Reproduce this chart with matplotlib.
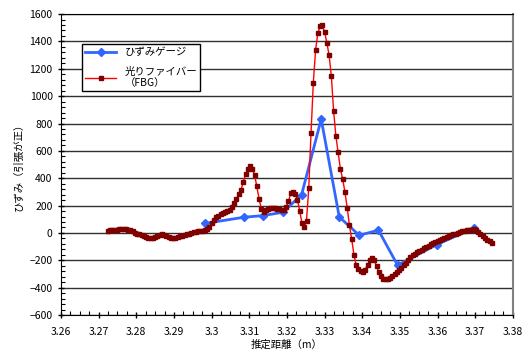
import numpy as np
import matplotlib
matplotlib.use('Agg')
import matplotlib.pyplot as plt
from matplotlib.ticker import MultipleLocator

plt.rcParams['font.family'] = ['Noto Sans CJK JP', 'DejaVu Sans']

# strain gauge
gauge_x = [3.2983, 3.3086, 3.3137, 3.3189, 3.3239, 3.3291, 3.3339, 3.3392,
           3.3443, 3.3494, 3.3598, 3.3698]
gauge_y = [70, 115, 127, 151, 280, 832, 117, -17, 20, -236, -85, 38]

# optical fibre (FBG)
fbg_x = [3.2724, 3.2730, 3.2736, 3.2742, 3.2748, 3.2754, 3.2760, 3.2766, 3.2772, 3.2778,
         3.2784, 3.2790, 3.2796, 3.2802, 3.2808, 3.2814, 3.2820, 3.2826, 3.2832, 3.2838,
         3.2844, 3.2850, 3.2856, 3.2862, 3.2868, 3.2874, 3.2880, 3.2886, 3.2892, 3.2898,
         3.2904, 3.2910, 3.2916, 3.2922, 3.2928, 3.2934, 3.2940, 3.2946, 3.2952, 3.2958,
         3.2964, 3.2970, 3.2976, 3.2982, 3.2988, 3.2994, 3.3000, 3.3006, 3.3012, 3.3018,
         3.3024, 3.3030, 3.3036, 3.3042, 3.3048, 3.3054, 3.3060, 3.3066, 3.3072, 3.3078,
         3.3084, 3.3090, 3.3096, 3.3102, 3.3108, 3.3114, 3.3120, 3.3126, 3.3132, 3.3138,
         3.3144, 3.3150, 3.3156, 3.3162, 3.3168, 3.3174, 3.3180, 3.3186, 3.3192, 3.3198,
         3.3204, 3.3210, 3.3216, 3.3222, 3.3228, 3.3234, 3.3240, 3.3246, 3.3252, 3.3258,
         3.3264, 3.3270, 3.3276, 3.3282, 3.3288, 3.3294, 3.3300, 3.3306, 3.3312, 3.3318,
         3.3324, 3.3330, 3.3336, 3.3342, 3.3348, 3.3354, 3.3360, 3.3366, 3.3372, 3.3378,
         3.3384, 3.3390, 3.3396, 3.3402, 3.3408, 3.3414, 3.3420, 3.3426, 3.3432, 3.3438,
         3.3444, 3.3450, 3.3456, 3.3462, 3.3468, 3.3474, 3.3480, 3.3486, 3.3492, 3.3498,
         3.3504, 3.3510, 3.3516, 3.3522, 3.3528, 3.3534, 3.3540, 3.3546, 3.3552, 3.3558,
         3.3564, 3.3570, 3.3576, 3.3582, 3.3588, 3.3594, 3.3600, 3.3606, 3.3612, 3.3618,
         3.3624, 3.3630, 3.3636, 3.3642, 3.3648, 3.3654, 3.3660, 3.3666, 3.3672, 3.3678,
         3.3684, 3.3690, 3.3696, 3.3702, 3.3708, 3.3714, 3.3720, 3.3726, 3.3732, 3.3738,
         3.3744]
fbg_y = [15, 18, 20, 22, 24, 26, 28, 29, 28, 25,
         18, 11, 3, -5, -11, -17, -23, -30, -37, -40,
         -35, -29, -22, -16, -11, -12, -20, -30, -39, -40,
         -36, -31, -25, -21, -16, -11, -4, 3, 6, 9,
         12, 15, 17, 21, 28, 45, 72, 98, 115, 127,
         138, 147, 155, 161, 168, 192, 218, 250, 285, 315,
         370, 430, 465, 490, 470, 425, 340, 250, 175, 155,
         165, 175, 180, 186, 185, 178, 172, 168, 170, 190,
         230, 290, 300, 287, 242, 160, 70, 42, 90, 330,
         730, 1095, 1335, 1460, 1510, 1518, 1470, 1390, 1300, 1145,
         890, 708, 590, 468, 395, 300, 185, 55, -45, -160,
         -236, -263, -278, -283, -268, -235, -198, -185, -200, -244,
         -288, -318, -333, -338, -336, -326, -313, -300, -287, -270,
         -253, -235, -216, -197, -175, -160, -151, -142, -133, -123,
         -112, -102, -92, -83, -74, -64, -56, -48, -42, -38,
         -33, -25, -18, -10, -4, 2, 8, 13, 17, 20,
         23, 25, 26, 22, 10, -5, -20, -35, -50, -62,
         -70]

fig = plt.figure(figsize=(5.26, 3.52), dpi=100)
ax = fig.add_axes([0.116, 0.105, 0.859, 0.855])

ax.plot(gauge_x, gauge_y, color='#3366FF', lw=2, marker='D', ms=4,
        mec='#3366FF', mfc='#3366FF', label='ひずみゲージ', zorder=3)
ax.plot(fbg_x, fbg_y, color='#FF0000', lw=1, marker='s', ms=2.7,
        mec='#800000', mfc='#800000', label='光りファイバー\n（FBG）', zorder=4)

ax.set_xlim(3.26, 3.38)
ax.set_ylim(-600, 1600)
ax.xaxis.set_major_locator(MultipleLocator(0.01))
ax.xaxis.set_minor_locator(MultipleLocator(0.0025))
ax.yaxis.set_major_locator(MultipleLocator(200))
ax.yaxis.set_minor_locator(MultipleLocator(40))
ax.set_xticklabels([f'{v:g}' for v in ax.get_xticks()])

ax.grid(axis='y', which='major', color='#303030', lw=1)
ax.tick_params(which='major', direction='inout', length=5, width=1, labelsize=7.5)
ax.tick_params(which='minor', direction='in', length=3, width=0.8)
ax.tick_params(axis='x', pad=6)

for side in ['left', 'bottom', 'top']:
    ax.spines[side].set_color('black')
ax.spines['right'].set_color('#808080')
ax.spines['right'].set_linewidth(1.5)

ax.set_xlabel('推定距離（m）', fontsize=7.5, labelpad=2)
ax.set_ylabel('ひずみ（引張が正）', fontsize=7.5, labelpad=4)

leg = ax.legend(loc='upper left', bbox_to_anchor=(0.046, 0.90), fontsize=7.5,
                frameon=True, fancybox=False, edgecolor='black',
                borderaxespad=0, labelspacing=0.9, handlelength=3,
                borderpad=0.3)
leg.get_frame().set_linewidth(1)
leg.get_frame().set_alpha(1)

fig.savefig('out.png', dpi=100)
